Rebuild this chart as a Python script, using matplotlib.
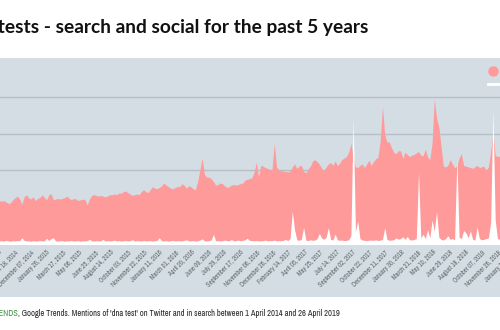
import pandas as pd
import matplotlib
matplotlib.use('Agg')
import matplotlib.pyplot as plt
from matplotlib.font_manager import FontProperties
from matplotlib.patches import Rectangle
from matplotlib.lines import Line2D

# weekly values from 1 April 2014, search interest (Google Trends index)
start_date = '2014-04-01'
end_date = '2019-04-26'
search = [
    27, 28, 26, 27, 29, 28, 27, 26, 28, 29, 30, 28, 27, 29, 28, 30, 29, 28, 27, 29, 30, 29,
    29, 28.5, 29, 28, 27, 27.5, 29.5, 31, 32, 30,
    26.5, 31.5, 33, 31, 30, 31.5, 29, 30.5, 31, 33,
    31, 29.5, 33, 33.5, 29.5, 30, 30.5, 30, 30.5, 31,
    32, 30.5, 29.5, 30.5, 30, 29, 29.5, 30, 29.5, 26,
    30, 32.5, 33, 32.5, 32, 32.5, 32, 31.5, 32, 33,
    33, 33.5, 33, 34, 34, 35, 35.5, 34.5, 33.5, 32.5,
    33, 33.5, 33, 35, 36.5, 35, 34.5, 36.5, 38.5, 37.5,
    37, 38, 39, 41, 39.5, 38.5, 37.5, 37, 38, 38.5,
    38.5, 40.5, 39.5, 37.5, 39, 38.5, 37, 36.5, 42, 50,
    58, 47, 45, 45, 44, 42, 39.5, 40, 41, 40.5,
    39, 38, 38.5, 39.5, 40, 39.5, 40, 40.5, 41, 43,
    43.5, 44, 44.5, 48, 55, 45, 53, 52.5, 51.5, 51,
    50, 50.5, 68, 52, 50, 49.5, 49, 49, 48.5, 49,
    52, 54, 51, 52.5, 53, 49, 48, 50.5, 52.5, 56,
    57, 55.5, 54, 51, 49.5, 52, 54, 55, 53, 56,
    53, 54.5, 57, 58, 59, 62, 68, 58, 52, 51.5,
    53, 54, 51.5, 54, 56.5, 53, 55.5, 57.5, 58.5, 70,
    93, 74, 69, 69, 65, 62, 61, 63, 63, 58,
    62, 60.5, 59, 60, 60.5, 61.5, 62.5, 60, 59.5, 64,
    59, 57, 68, 98.5, 85, 79.5, 66, 52.5, 52, 53,
    57, 54, 51.5, 52.5, 58, 61, 53, 52.5, 52, 51.5,
    51, 52, 53, 51.5, 52, 52.5, 49.5, 52, 62, 76,
    60, 59, 59.5, 62, 70, 82, 75, 60, 56, 55,
    54, 53, 55, 54, 52, 53, 55, 54, 56, 55, 54, 53, 52,
]

# weekly mentions of 'dna test' on Twitter, same scale
social = [
    1.5, 1.2, 1.8, 1.4, 1.6, 1.3, 2.0, 1.5, 1.4, 1.7, 1.2, 1.5, 1.6, 1.4, 1.9, 1.3, 1.5, 1.6, 1.2, 1.8, 1.4, 1.5,
    1.4, 1.6, 1.3, 1.8, 1.5, 1.2, 1.6, 1.4, 1.7, 1.5,
    3.6, 1.8, 1.4, 1.5, 1.2, 1.6, 1.3, 1.5, 1.7, 1.4,
    1.5, 3.2, 1.6, 3.0, 3.6, 1.4, 1.3, 1.6, 1.5, 1.2,
    1.5, 1.4, 1.7, 1.3, 1.5, 1.6, 1.2, 1.5, 1.4, 1.6,
    2.5, 1.5, 1.3, 1.6, 1.4, 1.5, 2.5, 1.3, 1.6, 1.4,
    1.5, 2.0, 1.4, 1.6, 1.3, 1.5, 1.7, 1.4, 1.5, 2.3,
    1.4, 1.6, 1.5, 1.3, 1.7, 1.4, 1.5, 1.6, 1.3, 1.5,
    1.8, 3.6, 1.5, 1.4, 1.6, 1.3, 1.5, 1.7, 1.4, 1.6,
    1.5, 1.4, 1.8, 2.2, 1.5, 1.4, 1.6, 1.3, 1.5, 2.0,
    2.8, 1.5, 1.4, 1.6, 2.0, 5.8, 1.5, 1.6, 1.4, 1.5,
    2.0, 1.6, 1.5, 2.4, 1.4, 1.6, 2.0, 1.5, 1.8, 2.2,
    3.2, 1.8, 1.6, 1.5, 1.7, 1.5, 1.4, 1.6, 2.0, 1.5,
    1.6, 1.5, 2.0, 1.4, 1.6, 1.5, 1.8, 2.5, 1.6, 3.0,
    21.4, 9.0, 2.2, 1.8, 2.5, 10.7, 2.0, 1.6, 2.2, 1.8,
    2.0, 3.0, 6.5, 3.5, 2.5, 4.0, 10.5, 2.5, 2.0, 6.0,
    2.2, 1.8, 2.0, 1.6, 1.8, 2.2, 5.0, 86.0, 7.7, 15.0,
    3.0, 2.0, 1.8, 1.6, 1.9, 2.0, 1.8, 2.2, 1.7, 2.0,
    2.4, 10.5, 2.5, 1.8, 2.0, 2.2, 3.5, 2.6, 3.0, 4.3,
    2.5, 4.5, 2.2, 2.0, 2.4, 3.0, 48.0, 3.5, 6.0, 3.0,
    9.0, 3.5, 15.7, 8.0, 21.4, 4.0, 2.5, 2.0, 3.0, 5.0,
    2.5, 3.0, 2.2, 57.4, 4.0, 3.0, 8.5, 7.0, 3.5, 8.3,
    2.5, 2.0, 11.0, 3.0, 2.2, 2.5, 3.0, 3.5, 14.0, 91.0,
    16.0, 3.0, 2.5, 2.2, 2.0, 3.0, 2.6, 2.4, 2.2, 3.0,
    2.5, 2.0, 2.8, 2.3, 2.0, 2.6, 3.2, 2.4, 2.0, 2.2, 2.6, 2.3, 2.1,
]

tick_labels = [
    'April 01, 2014', 'May 21, 2014', 'July 10, 2014', 'August 29, 2014',
    'October 18, 2014', 'December 07, 2014', 'January 26, 2015', 'March 17, 2015',
    'May 06, 2015', 'June 25, 2015', 'August 14, 2015', 'October 03, 2015',
    'November 22, 2015', 'January 11, 2016', 'March 01, 2016', 'April 20, 2016',
    'June 09, 2016', 'July 29, 2016', 'September 17, 2016', 'November 06, 2016',
    'December 26, 2016', 'February 14, 2017', 'April 05, 2017', 'May 25, 2017',
    'July 14, 2017', 'September 02, 2017', 'October 22, 2017', 'December 11, 2017',
    'January 30, 2018', 'March 21, 2018', 'May 10, 2018', 'June 29, 2018',
    'August 18, 2018', 'October 07, 2018', 'November 26, 2018', 'January 15, 2019',
    'March 06, 2019', 'April 25, 2019',
]
grid_values = [25, 50, 75, 100]
series_names = ['Search', 'Twitter']

title = 'Interest in DNA tests - search and social for the past 5 years'
source_link = 'Source: GOOGLE TRENDS'
source_rest = (", Google Trends. Mentions of 'dna test' on Twitter and in search "
               "between 1 April 2014 and 26 April 2019")

RED = '#ff9a9b'
PANEL = '#d4dde3'
GRID = '#b6bfc5'
NARROW = ['Archivo Narrow', 'Roboto Condensed', 'DejaVu Sans']
TITLE_FONT = ['Lato', 'DejaVu Sans']

dates = pd.date_range(start=start_date, periods=len(search), freq='7D')
tick_dates = pd.to_datetime(tick_labels, format='%B %d, %Y')

W, H = 500, 330
fig = plt.figure(figsize=(W / 100, H / 100), dpi=100)
fig.patch.set_facecolor('white')
renderer = fig.canvas.get_renderer()


def fit_size(text, family, target_px, weight='normal'):
    # font size (pt) at which the text is target_px wide
    fp = FontProperties(family=family, size=10, weight=weight)
    w, _, _ = renderer.get_text_width_height_descent(text, fp, ismath=False)
    return 10 * target_px / w


# grey panel behind the chart and its date labels
fig.patches.append(Rectangle((0, 1 - 297 / H), 1, (297 - 58) / H, transform=fig.transFigure,
                             facecolor=PANEL, edgecolor='none', zorder=-1))

# the picture is a crop of a wider chart: the axes run past both figure edges
px_per_day = 0.322
anchor = pd.Timestamp('2016-04-20')
anchor_px = 191.7
x_start = pd.Timestamp(start_date) - pd.Timedelta(days=3)
x_end = pd.Timestamp(end_date)
one_day = pd.Timedelta(days=1)
left_px = anchor_px - (anchor - x_start) / one_day * px_per_day
right_px = anchor_px + (x_end - anchor) / one_day * px_per_day

base_px, top_px = 243.5, 58
ax = fig.add_axes([left_px / W, 1 - base_px / H, (right_px - left_px) / W, (base_px - top_px) / H])
ax.set_facecolor('none')

ax.fill_between(dates, search, 0, color=RED, lw=0, zorder=2)
ax.fill_between(dates, social, 0, color='white', lw=0, zorder=3)

ax.set_yticks(grid_values)
ax.yaxis.grid(True, color=GRID, lw=1)
ax.set_axisbelow(True)
ax.tick_params(axis='y', length=0, labelleft=False)

tick_size = fit_size('September 17, 2016', NARROW, 50)
ax.set_xticks(tick_dates)
ax.set_xticklabels(tick_labels, rotation=45, ha='right', rotation_mode='anchor',
                   family=NARROW, fontsize=tick_size, color='#5f676c')
ax.tick_params(axis='x', length=0, pad=4)

ax.set_xlim(x_start, x_end)
ax.set_ylim(0, (base_px - top_px) / 1.464)

for side in ['top', 'left', 'right']:
    ax.spines[side].set_visible(False)
ax.spines['bottom'].set_color('white')
ax.spines['bottom'].set_linewidth(1.5)
ax.spines['bottom'].set_zorder(4)

handles = [Line2D([], [], marker='o', color=RED, linestyle='none', markersize=6.5),
           Line2D([], [], color='white', lw=2)]
fig.legend(handles, series_names, loc='upper left', bbox_to_anchor=(488 / W, 1 - 66 / H),
           frameon=False, fontsize=7, handlelength=1.0, handletextpad=0.6,
           labelspacing=0.3, borderpad=0, borderaxespad=0)

title_size = fit_size('tests - search and social for the past 5 years', TITLE_FONT, 373, 'bold')
fig.text(368 / W, 1 - 28 / H, title, ha='right', va='center', fontsize=title_size,
         fontweight='bold', family=TITLE_FONT, color='#111111')

src_size = fit_size(source_rest, NARROW, 321, 'bold')
src = fig.text(340 / W, 1 - 313 / H, source_rest, ha='right', va='center', fontsize=src_size,
               family=NARROW, fontweight='bold', color='#262626')
ax.annotate(source_link, xy=(0, 0), xycoords=src, ha='right', va='bottom',
            fontsize=src_size, family=NARROW, fontweight='bold', color='#3f8f3f',
            annotation_clip=False)

fig.savefig('out.png', dpi=100)
